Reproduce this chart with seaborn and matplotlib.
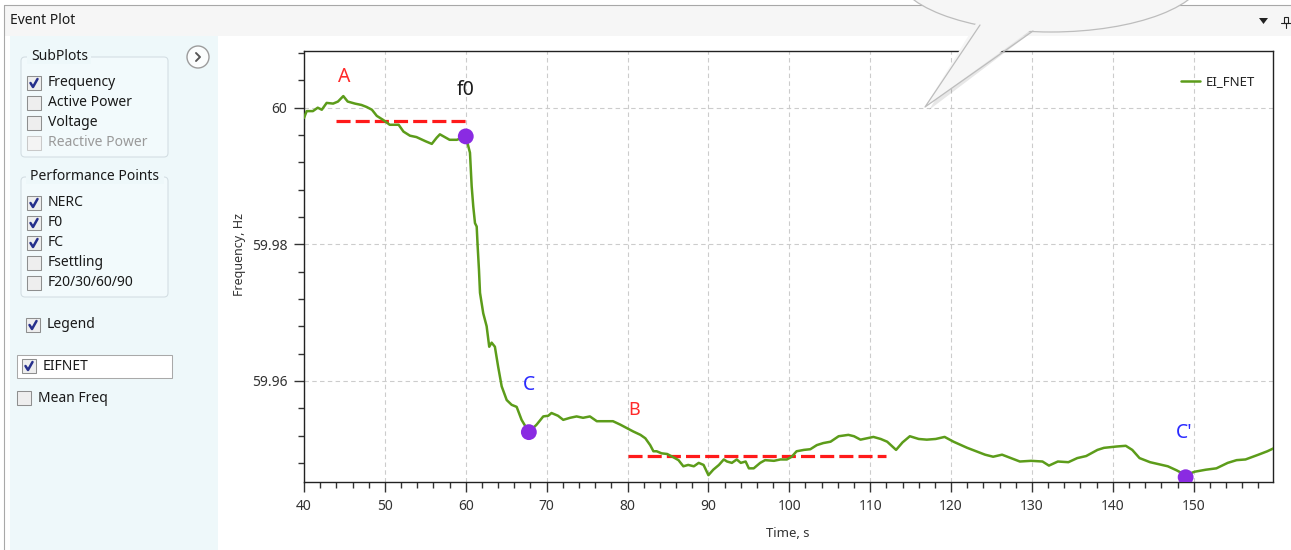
import pandas as pd
import matplotlib.pyplot as plt
import seaborn as sns
from matplotlib.patches import FancyBboxPatch, Ellipse, Polygon, Circle, Rectangle
from matplotlib.lines import Line2D
from matplotlib.transforms import Affine2D
from matplotlib.ticker import MultipleLocator, FixedLocator, FuncFormatter

W, H, DPI = 1291, 550, 100

# EI_FNET frequency trace
time_s = [40.0, 40.33, 41.1, 41.7, 42.2, 42.8, 43.6, 44.2, 44.86, 45.4, 46.3, 47.1,
          47.75, 48.4, 49.0, 49.8, 50.6, 51.7, 52.3, 53.1, 53.9, 55.0, 55.8, 56.4,
          56.8, 57.4, 58.0, 58.9, 60.0,
          60.52, 60.73, 60.93, 61.14, 61.35, 61.47, 61.63, 61.76, 62.16, 62.58, 62.9,
          63.2, 63.6, 64.0, 64.44, 65.06, 65.67, 66.29, 66.9, 67.8, 68.76, 69.58, 70.2,
          70.6, 71.4, 72.05, 72.9, 73.7, 74.5, 75.35, 76.2, 77.4, 78.2, 79.1, 79.9,
          80.7, 81.6, 82.2, 82.8, 83.2, 83.6, 84.2, 84.9, 85.7, 86.3, 86.9, 87.5,
          88.2, 88.8, 89.4, 90.0, 90.6, 91.3, 91.9, 92.3, 92.9, 93.5, 94.0, 94.6,
          95.0, 95.6, 96.4, 97.0, 98.1, 98.9, 99.7, 100.3, 100.9, 101.8, 102.6, 103.4,
          104.2, 105.1, 106.1, 107.3, 108.0, 108.8, 109.6, 110.4, 111.3,
          112.1, 113.2, 114.0, 114.9, 116.0, 117.0, 118.1, 119.2, 120.3, 122.0, 123.1,
          124.2, 125.2, 126.3, 127.4, 128.5, 129.9, 131.3, 132.1, 133.2, 134.5, 135.6,
          136.7, 138.1, 138.9, 140.5, 141.6, 142.4, 143.3, 144.6, 145.7, 146.8, 147.9,
          149.0, 150.1, 151.5, 152.8, 154.2, 155.3, 156.4, 158.0, 159.1, 160.0]
freq_hz = [59.9985, 59.9995, 59.9995, 60.0000, 59.9997, 60.0007, 60.0006, 60.0009,
           60.0017, 60.0009, 60.0006, 60.0004, 60.0001, 59.9997, 59.9988, 59.9982,
           59.9975, 59.9975, 59.9965, 59.9959, 59.9957, 59.9951, 59.9947, 59.9956,
           59.9961, 59.9957, 59.9953, 59.9953, 59.9958,
           59.9934, 59.9885, 59.9855, 59.9831, 59.9826, 59.9797, 59.9763, 59.9729,
           59.9699, 59.9680, 59.9650, 59.9656, 59.9650, 59.9621, 59.9592, 59.9572,
           59.9565, 59.9562, 59.9543, 59.9525, 59.9536, 59.9548, 59.9549, 59.9553,
           59.9549, 59.9543, 59.9546, 59.9548, 59.9546, 59.9548, 59.9541, 59.9541,
           59.9541, 59.9536, 59.9531,
           59.9526, 59.9521, 59.9516, 59.9506, 59.9497, 59.9497, 59.9494, 59.9493,
           59.9488, 59.9484, 59.9475, 59.9477, 59.9475, 59.9480, 59.9477, 59.9462,
           59.9470, 59.9477, 59.9485, 59.9482, 59.9480, 59.9485, 59.9480, 59.9482,
           59.9472, 59.9472, 59.9480, 59.9484, 59.9483, 59.9485, 59.9485, 59.9489,
           59.9497, 59.9499, 59.9500, 59.9506, 59.9509, 59.9511, 59.9519, 59.9521,
           59.9519, 59.9514, 59.9516, 59.9518, 59.9515,
           59.9511, 59.9499, 59.9510, 59.9519, 59.9515, 59.9514, 59.9515, 59.9518,
           59.9511, 59.9502, 59.9497, 59.9492, 59.9489, 59.9492, 59.9487, 59.9482,
           59.9483, 59.9482, 59.9476, 59.9482, 59.9481, 59.9487, 59.9490, 59.9499,
           59.9502, 59.9504, 59.9505, 59.9499, 59.9487, 59.9481, 59.9478, 59.9475,
           59.9469, 59.9462, 59.9467, 59.9470, 59.9472, 59.9480, 59.9484, 59.9485,
           59.9492, 59.9497, 59.9502]

# performance points (f0, C, C')
point_t = [60.0, 67.8, 149.0]
point_f = [59.9958, 59.9525, 59.9459]

# NERC averaging windows A and B
a_t = [44.0, 60.0]
a_f = [59.9980, 59.9980]
b_t = [80.0, 112.0]
b_f = [59.9490, 59.9490]

labels = ["A", "f0", "C", "B", "C'"]
label_t = [44.95, 60.0, 67.8, 80.8, 148.8]
label_f = [60.0045, 60.0026, 59.9594, 59.9558, 59.9524]
label_c = ["#ff2a2a", "#1a1a1a", "#2b2bff", "#ff2a2a", "#2b2bff"]

sub_items = ["Frequency", "Active Power", "Voltage", "Reactive Power"]
sub_checked = [True, False, False, False]
perf_items = ["NERC", "F0", "FC", "Fsettling", "F20/30/60/90"]
perf_checked = [True, True, True, False, False]

GREEN = "#5c9c1a"

sns.set_style("white")
plt.rcParams['font.family'] = ['Noto Sans', 'DejaVu Sans']

fig = plt.figure(figsize=(W / DPI, H / DPI), dpi=DPI)
pix = Affine2D().scale(1 / DPI) + fig.dpi_scale_trans


def rect(x, y, w, h, fc, ec="none", lw=0.0, r=0, z=-5):
    style = f"round,pad=0,rounding_size={r}" if r else "square,pad=0"
    p = FancyBboxPatch((x, H - y - h), w, h, boxstyle=style, transform=pix,
                       fc=fc, ec=ec, lw=lw, zorder=z)
    fig.add_artist(p)


def label(x, y, s, size=10, color="#1a1a1a", z=-4, **kw):
    fig.text(x, H - y, s, transform=pix, fontsize=size, color=color,
             va="center", zorder=z, **kw)


def checkbox(x, y, checked, enabled=True):
    ec = "#8e8f8f" if enabled else "#c9c9c9"
    rect(x, y - 7, 14, 14, "#eeeeee" if enabled else "#f4f4f4", ec, 0.75, z=-3)
    if checked:
        fig.add_artist(Line2D([x + 3.5, x + 6, x + 10.5], [H - y, H - y - 4, H - y + 4],
                              transform=pix, color="#27308c", lw=1.8, zorder=-2))


# window chrome
rect(0, 0, W, H, "white", z=-9)
rect(4, 5, W - 4, 31, "#f6f6f6", z=-8)
fig.add_artist(Line2D([4, W], [H - 5, H - 5], transform=pix, color="#a8a8a8", lw=0.8, zorder=-7))
fig.add_artist(Line2D([4, 4], [H - 5, 0], transform=pix, color="#a8a8a8", lw=0.8, zorder=-7))
label(10, 21, "Event Plot", 10)
fig.add_artist(Polygon([[1259, H - 18], [1268, H - 18], [1263.5, H - 24]], closed=True,
                       transform=pix, fc="#222222", ec="none", zorder=-6))
fig.add_artist(Rectangle((1284, H - 23), 4, 6, transform=pix, fc="none", ec="#222222", lw=0.8, zorder=-6))
fig.add_artist(Line2D([1281, 1291], [H - 23, H - 23], transform=pix, color="#222222", lw=0.8, zorder=-6))
fig.add_artist(Line2D([1286, 1286], [H - 23, H - 28], transform=pix, color="#222222", lw=0.8, zorder=-6))

# left control panel
rect(10, 36, 208, H - 36, "#eef8fa", z=-8)
fig.add_artist(Circle((198, H - 57), 11, transform=pix, fc="#fbfdfd", ec="#9c9c9c", lw=1.0, zorder=-6))
fig.add_artist(Line2D([196, 200, 196], [H - 53, H - 57, H - 61], transform=pix,
                      color="#555555", lw=1.4, zorder=-5))

rect(21, 57, 147, 100, "#f2fafc", "#d2dde2", 0.75, r=4, z=-7)
rect(27, 50, 64, 14, "#eef8fa", z=-6)
label(31, 57, "SubPlots", 10)
for i, (name, on) in enumerate(zip(sub_items, sub_checked)):
    enabled = name != "Reactive Power"
    checkbox(27, 83 + 20 * i, on, enabled)
    label(48, 83 + 20 * i, name, 10, "#1a1a1a" if enabled else "#9a9a9a")

rect(21, 177, 147, 120, "#f2fafc", "#d2dde2", 0.75, r=4, z=-7)
rect(26, 170, 138, 14, "#eef8fa", z=-6)
label(30, 177, "Performance Points", 10)
for i, (name, on) in enumerate(zip(perf_items, perf_checked)):
    checkbox(27, 203 + 20 * i, on)
    label(48, 203 + 20 * i, name, 10)

checkbox(26, 325, True)
label(47, 325, "Legend", 10)
rect(17, 355, 155, 23, "white", "#a9a9a9", 0.75, z=-7)
checkbox(22, 366, True)
label(43, 366, "EIFNET", 10)
checkbox(17, 398, False)
label(38, 398, "Mean Freq", 10)

# plot
ax = fig.add_axes([304 / W, (H - 482) / H, (1273 - 304) / W, (482 - 51) / H])
df = pd.DataFrame({"time": time_s, "freq": freq_hz})
sns.lineplot(data=df, x="time", y="freq", ax=ax, color=GREEN, lw=1.8,
             label="EI_FNET", estimator=None, sort=False, zorder=3)
ax.plot(a_t, a_f, color="#ff1a1a", lw=2.3, dashes=(4.4, 1.6), zorder=2)
ax.plot(b_t, b_f, color="#ff1a1a", lw=2.3, dashes=(4.4, 1.6), zorder=2)
sns.scatterplot(x=point_t, y=point_f, ax=ax, color="#8a2be2", s=130,
                edgecolor="none", zorder=5, legend=False)
for s, t, f, c in zip(labels, label_t, label_f, label_c):
    ax.text(t, f, s, color=c, ha="center", va="center",
            fontsize=13 if s == "B" else 14, zorder=6)

ax.set_xlim(40, 159.8)
ax.set_ylim(59.9452, 60.0083)
ax.xaxis.set_major_locator(MultipleLocator(10))
ax.xaxis.set_minor_locator(MultipleLocator(2))
ax.yaxis.set_major_locator(FixedLocator([59.96, 59.98, 60.0]))
ax.yaxis.set_minor_locator(MultipleLocator(0.004))
ax.yaxis.set_major_formatter(FuncFormatter(lambda v, p: f"{v:g}"))
ax.tick_params(which="both", direction="out", color="#333333", labelcolor="#333333",
               bottom=True, left=True)
ax.tick_params(which="major", length=7, width=1, labelsize=10, pad=5)
ax.tick_params(which="minor", length=4.5, width=1)
ax.grid(True, which="major", color="#cccccc", lw=0.8, linestyle=(0, (4, 3)))
for sp in ax.spines.values():
    sp.set_color("#222222")
    sp.set_linewidth(1.0)

ax.set_xlabel("Time, s", fontsize=9.5, color="#333333")
ax.set_ylabel("Frequency, Hz", fontsize=9, color="#333333")
ax.xaxis.set_label_coords((788 - 304) / (1273 - 304), (482 - 527) / (482 - 51))
ax.yaxis.set_label_coords((246 - 304) / (1273 - 304), (482 - 255) / (482 - 51))

leg = ax.legend(loc="center right", bbox_to_anchor=((1255 - 304) / (1273 - 304), (482 - 82) / (482 - 51)),
                frameon=False, fontsize=9.5, handlelength=1.4, handletextpad=0.45,
                borderpad=0, borderaxespad=0)
for txt in leg.get_texts():
    txt.set_color("#222222")

# speech-bubble callout overlay at the top
shadow = "#00000018"
fig.add_artist(Ellipse((1054, H + 31), 312, 122, transform=pix, fc=shadow, ec="none", zorder=19))
fig.add_artist(Polygon([[983, H - 22], [929, H - 110], [1036, H - 29]], closed=True,
                       transform=pix, fc=shadow, ec="none", zorder=19))
fig.add_artist(Ellipse((1051, H + 28), 310, 120, transform=pix, fc="#f6f6f6",
                       ec="#bdbdbd", lw=0.9, zorder=20))
fig.add_artist(Polygon([[978, H - 20], [925, H - 107], [1035, H - 27]], closed=True,
                       transform=pix, fc="#f6f6f6", ec="none", zorder=21))
fig.add_artist(Line2D([980, 925, 1033], [H - 25, H - 107, H - 31], transform=pix,
                      color="#bdbdbd", lw=0.9, zorder=22))

fig.savefig("out.png", dpi=DPI)
